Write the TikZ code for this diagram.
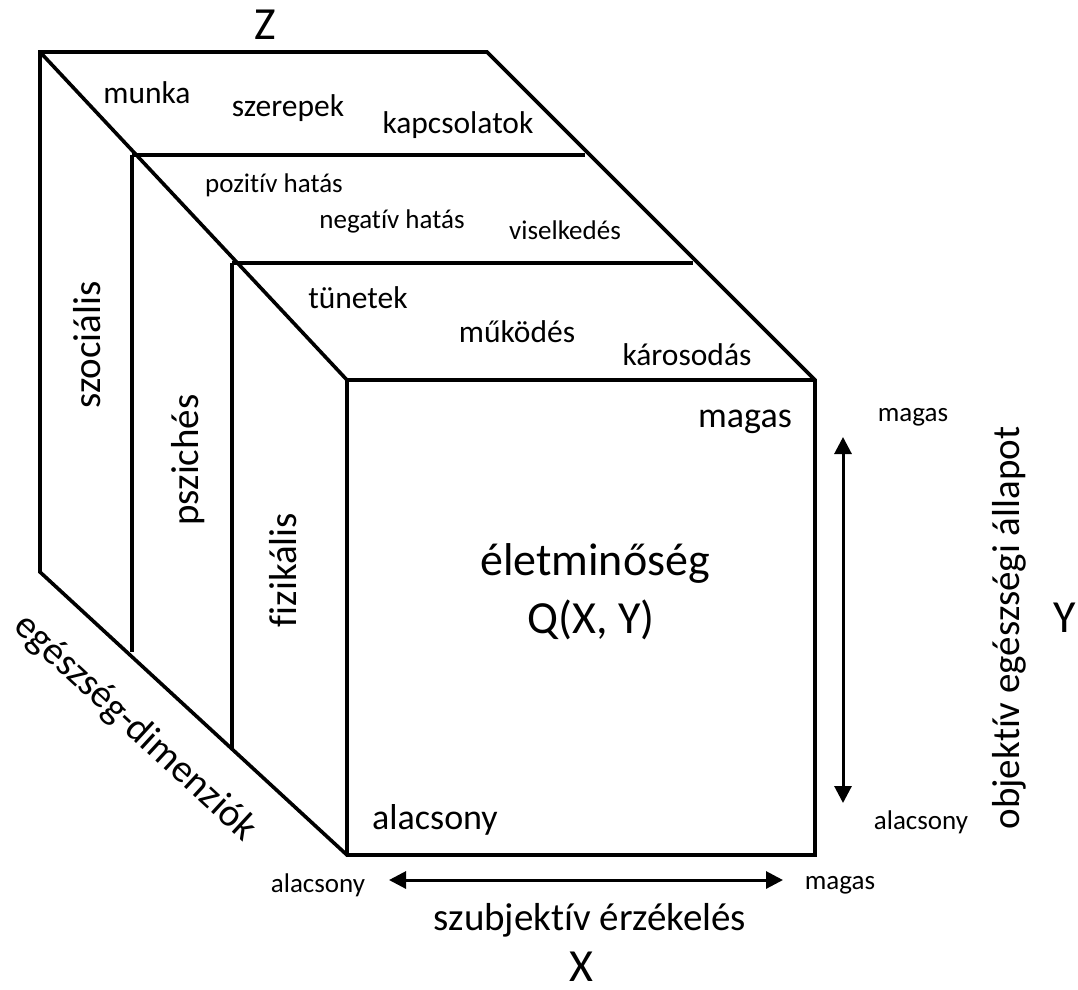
\documentclass[tikz,border=0pt]{standalone}
\usepackage{fontspec}
\setmainfont{Carlito}[Ligatures=NoCommon]
\usepackage{tikz}
\usetikzlibrary{arrows.meta}
\tikzset{
  edge/.style  ={draw=black, line width=3.6pt, line join=miter},
  axis/.style  ={{Triangle[length=17pt,width=17pt]}-{Triangle[length=17pt,width=17pt]}, line width=3pt},
  cell/.style  ={inner sep=0pt, font=\fontsize{31.5}{36}\selectfont},
  sub/.style   ={inner sep=0pt, font=\fontsize{27}{32}\selectfont},
  side/.style  ={inner sep=0pt, font=\fontsize{39}{46}\selectfont},
  big/.style   ={inner sep=0pt, font=\fontsize{46}{54}\selectfont},
  tick/.style  ={inner sep=0pt, font=\fontsize{27}{32}\selectfont},
}
\begin{document}
\begin{tikzpicture}[x=1pt,y=-1pt]
  \useasboundingbox (0,0) rectangle (1078,989);

  % cube corners
  \coordinate (A) at (40,52);   \coordinate (B) at (487,52);
  \coordinate (C) at (815,380); \coordinate (D) at (347,380);
  \coordinate (E) at (347,855); \coordinate (F) at (815,855);
  \coordinate (G) at (40,572);
  % slice corners
  \coordinate (p1) at (132,155); \coordinate (q1) at (585,155); \coordinate (r1) at (132,652);
  \coordinate (p2) at (232,263); \coordinate (q2) at (693,263); \coordinate (r2) at (232,748);

  \draw[edge] (A) -- (B) -- (C) -- (F) -- (E) -- (G) -- cycle;
  \draw[edge] (A) -- (D) -- (C); \draw[edge] (D) -- (E);
  \draw[edge] (p1) -- (q1); \draw[edge] (p2) -- (q2);
  \draw[edge] (p1) -- (r1); \draw[edge] (p2) -- (r2);

  % top face
  \node[cell] (munka) at (147,93)  {munka};
  \node[cell] (szer)  at (288,108) {szerepek};
  \node[cell] (kapcs) at (458,125) {kapcsolatok};
  \node[sub]  (poz)   at (274,185) {pozitív hatás};
  \node[sub]  (neg)   at (392,221) {negatív hatás};
  \node[sub]  (visel) at (565,230) {viselkedés};
  \node[cell] (tun)   at (358,298) {tünetek};
  \node[cell] (mukod) at (517,332) {működés};
  \node[cell] (karos) at (687,355) {károsodás};

  % side slices
  \node[side,rotate=90] (szoc) at (87,345)  {szociális};
  \node[side,rotate=90] (pszi) at (188,460) {pszichés};
  \node[side,rotate=90] (fiz)  at (283,570) {fizikális};
  \node[side,rotate=-42.7] (dim) at (135,728) {egészség-dimenziók};

  % front face
  \node[big,anchor=base] (qol) at (595,575) {életminőség};
  \node[big,anchor=base] (qxy) at (591,633) {Q(X, Y)};
  \node[side,font=\fontsize{36}{42}\selectfont] (fmag) at (745,422) {magas};
  \node[side,font=\fontsize{36}{42}\selectfont] (falac) at (435,820) {alacsony};

  % Y axis
  \coordinate (ytop) at (843,437); \coordinate (ybot) at (843,803);
  \draw[axis] (ybot) -- (ytop);
  \node[tick] (ymag) at (913,417) {magas};
  \node[tick] (yalac) at (921,822) {alacsony};
  \node[side,rotate=90] (ylbl) at (1009,628) {objektív egészségi állapot};
  \node[big] (Y) at (1065,618) {Y};

  % X axis
  \coordinate (xl) at (389,880); \coordinate (xr) at (783,880);
  \draw[axis] (xl) -- (xr);
  \node[tick] (xalac) at (318,885) {alacsony};
  \node[tick] (xmag) at (840,885) {magas};
  \node[side] (xlbl) at (590,920) {szubjektív érzékelés};
  \node[big] (X) at (581,967) {X};

  \node[big] (Z) at (265,25) {Z};
\end{tikzpicture}
\end{document}
